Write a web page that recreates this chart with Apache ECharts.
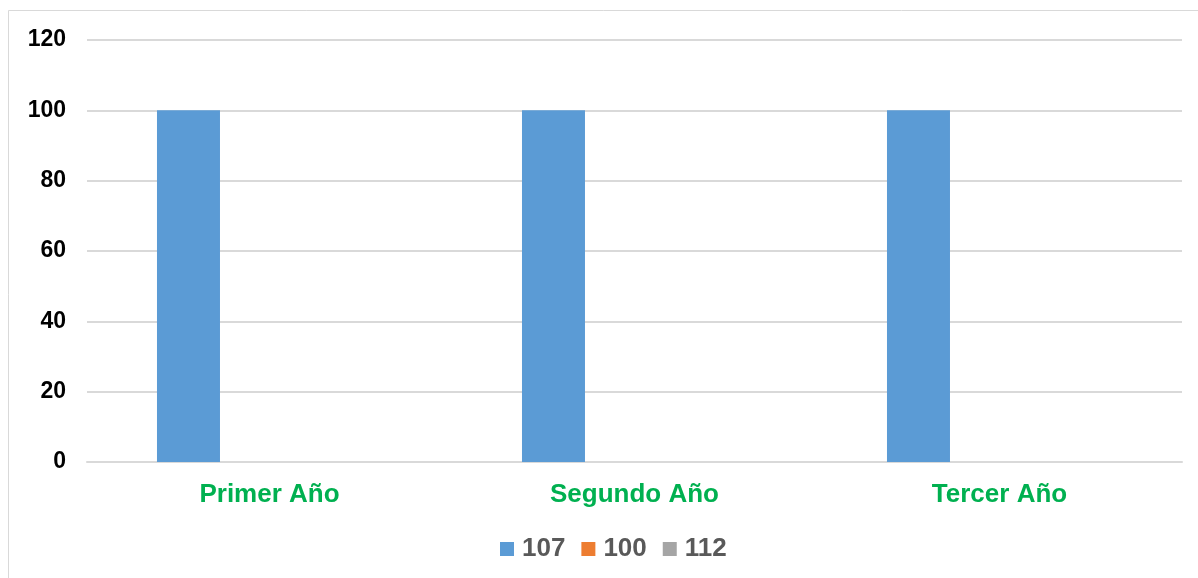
<!DOCTYPE html>
<html>
<head>
<meta charset="utf-8">
<script src="https://cdn.jsdelivr.net/npm/echarts@6/dist/echarts.min.js"></script>
<style>
  html, body { margin: 0; padding: 0; background: #fff; }
  #chart { width: 1198px; height: 578px; }
</style>
</head>
<body>
<div id="chart"></div>
<script>
// Categories and series values
const categories = ['Primer Año', 'Segundo Año', 'Tercer Año'];
const seriesNames = ['107', '100', '112'];
const values107 = [100, 100, 100];
const values100 = [0, 0, 0];
const values112 = [0, 0, 0];
const yTicks = { min: 0, max: 120, interval: 20 };

const colors = ['#5B9BD5', '#ED7D31', '#A5A5A5'];
const seriesValues = [values107, values100, values112];
const fontFamily = 'Liberation Sans, Arial, sans-serif';

const chart = echarts.init(document.getElementById('chart'), null, { renderer: 'canvas' });

chart.setOption({
  animation: false,
  backgroundColor: '#ffffff',
  color: colors,
  graphic: [{
    type: 'rect',
    shape: { x: 8.5, y: 10.5, width: 1300, height: 700 },
    style: { fill: 'none', stroke: '#d9d9d9', lineWidth: 1 },
    silent: true
  }],
  grid: { left: 87, right: 16, top: 40, bottom: 116, containLabel: false },
  legend: {
    top: 531,
    left: 495,
    itemWidth: 14,
    itemHeight: 14,
    itemGap: 16,
    icon: 'rect',
    textStyle: { fontFamily: fontFamily, fontSize: 26, fontWeight: 'bold', color: '#595959', padding: [0, 0, 0, 3] },
    data: seriesNames
  },
  xAxis: {
    type: 'category',
    data: categories,
    axisLine: { lineStyle: { color: '#d9d9d9', width: 2 } },
    axisTick: { show: false },
    axisLabel: {
      margin: 20,
      fontFamily: fontFamily,
      fontSize: 26,
      fontWeight: 'bold',
      color: '#00B050'
    }
  },
  yAxis: {
    type: 'value',
    min: yTicks.min,
    max: yTicks.max,
    interval: yTicks.interval,
    axisLine: { show: false },
    axisTick: { show: false },
    splitLine: { lineStyle: { color: '#d9d9d9', width: 2 } },
    axisLabel: {
      margin: 21,
      fontFamily: fontFamily,
      fontSize: 23,
      fontWeight: 'bold',
      color: '#000000'
    }
  },
  series: seriesNames.map((name, i) => ({
    name: name,
    type: 'bar',
    data: seriesValues[i],
    barWidth: 63,
    barGap: '28.6%',
    itemStyle: { color: colors[i] }
  }))
});
</script>
</body>
</html>
